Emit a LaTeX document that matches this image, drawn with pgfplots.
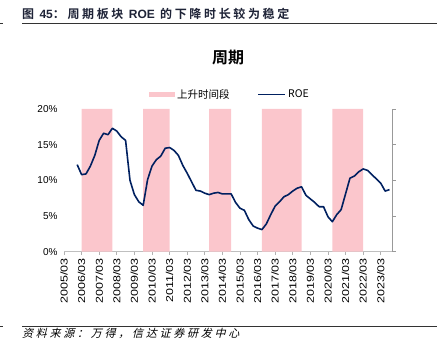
\documentclass[border=0pt]{standalone}
\usepackage{fontspec}
\setmainfont{Liberation Sans}
\newfontfamily\cjk[BoldFont={Noto Sans CJK SC Bold}]{Noto Sans CJK SC}
\newfontfamily\cjkhead[BoldFont={Noto Sans CJK SC Bold},LetterSpace=22]{Noto Sans CJK SC}
\newfontfamily\cjkfoot[FakeSlant=0.25,LetterSpace=25]{Noto Sans CJK SC}
\usepackage{graphicx}
\usepackage{pgfplots}
\usepackage{pgfplotstable}
\pgfplotsset{compat=1.18}
\definecolor{pinkc}{RGB}{251,198,204}
\definecolor{navyc}{RGB}{0,32,96}
\definecolor{headc}{RGB}{30,35,55}

\pgfplotstableread{
t v
0.75 12.2
1.0 10.8
1.25 10.9
1.5 12.0
1.75 13.5
2.0 15.6
2.25 16.6
2.5 16.4
2.75 17.3
3.0 16.9
3.25 16.1
3.5 15.6
3.75 10.0
4.0 8.0
4.25 7.0
4.5 6.5
4.75 10.1
5.0 12.0
5.25 12.9
5.5 13.4
5.75 14.5
6.0 14.6
6.25 14.2
6.5 13.5
6.75 12.1
7.0 11.0
7.25 9.8
7.5 8.6
7.75 8.5
8.0 8.2
8.25 8.0
8.5 8.2
8.75 8.3
9.0 8.1
9.25 8.1
9.5 8.1
9.75 6.9
10.0 6.1
10.25 5.8
10.5 4.5
10.75 3.6
11.0 3.3
11.25 3.1
11.5 3.9
11.75 5.2
12.0 6.4
12.25 7.0
12.5 7.7
12.75 8.0
13.0 8.5
13.25 8.9
13.5 9.1
13.75 7.9
14.0 7.4
14.25 6.9
14.5 6.3
14.75 6.3
15.0 4.9
15.25 4.2
15.5 5.2
15.75 5.9
16.0 8.1
16.25 10.3
16.5 10.6
16.75 11.2
17.0 11.6
17.25 11.4
17.5 10.8
17.75 10.2
18.0 9.6
18.25 8.5
18.5 8.7
}\roe

\begin{document}
\begin{tikzpicture}
\useasboundingbox (0,0) rectangle (437bp,356bp);
% header
\node[anchor=west, inner sep=0, text=headc] at (22bp,342bp) {\fontsize{12bp}{14bp}\selectfont\cjkhead\bfseries 图 {\rmfamily\bfseries 45}：周期板块 {\rmfamily\bfseries ROE} 的下降时长较为稳定};
\draw[black!80, line width=0.8bp] (22bp,332.7bp) -- (437bp,332.7bp);
\draw[black!80, line width=0.8bp] (0,332.7bp) -- (3bp,332.7bp);
% footer
\draw[black!80, line width=0.8bp] (22bp,30bp) -- (437bp,30bp);
\draw[black!80, line width=0.8bp] (0,30bp) -- (3bp,30bp);
\node[anchor=west, inner sep=0] at (22bp,23bp) {\cjkfoot\fontsize{11bp}{13bp}\selectfont 资料来源：万得，信达证券研发中心};
% title
\node[inner sep=0] at (228bp,298.7bp) {\cjk\bfseries\fontsize{16bp}{18bp}\selectfont 周期};

\begin{axis}[
  at={(64bp,104.3bp)}, anchor=south west, scale only axis,
  width=328bp, height=142.7bp,
  xmin=0, xmax=18.64, ymin=0, ymax=20,
  axis lines*=left, axis line style={-},
  y axis line style={draw=none},
  x axis line style={draw=black!25, line width=0.8bp},
  xtick={0,...,18},
  xticklabels={\scalebox{1.25}[1]{2005/03},\scalebox{1.25}[1]{2006/03},\scalebox{1.25}[1]{2007/03},\scalebox{1.25}[1]{2008/03},\scalebox{1.25}[1]{2009/03},\scalebox{1.25}[1]{2010/03},\scalebox{1.25}[1]{2011/03},\scalebox{1.25}[1]{2012/03},\scalebox{1.25}[1]{2013/03},\scalebox{1.25}[1]{2014/03},\scalebox{1.25}[1]{2015/03},\scalebox{1.25}[1]{2016/03},\scalebox{1.25}[1]{2017/03},\scalebox{1.25}[1]{2018/03},\scalebox{1.25}[1]{2019/03},\scalebox{1.25}[1]{2020/03},\scalebox{1.25}[1]{2021/03},\scalebox{1.25}[1]{2022/03},\scalebox{1.25}[1]{2023/03}},
  ytick={0,5,10,15,20},
  yticklabels={0\%,5\%,10\%,15\%,20\%},
  tick align=outside,
  major tick length=3bp,
  xtick style={draw=black!30, line width=0.6bp},
  ytick style={draw=none},
  tick label style={font=\fontsize{10bp}{12bp}\selectfont, /pgf/number format/assume math mode=true},
  xticklabel style={rotate=90, anchor=east},
  legend style={at={(0.5,1)}, anchor=south, xshift=2bp, yshift=5bp, draw=none, fill=none,
    legend columns=-1, font=\cjk\fontsize{10.5bp}{12bp}\selectfont,
    /tikz/every even column/.append style={column sep=26bp}},
]
\addplot[fill=pinkc, draw=none, legend image code/.code={\fill[pinkc] (0bp,-2.7bp) rectangle (26bp,2.7bp);}] coordinates {(1,0) (1,20) (2.75,20) (2.75,0)} \closedcycle;
\addlegendentry{上升时间段}
\addplot[fill=pinkc, draw=none, forget plot] coordinates {(4.5,0) (4.5,20) (6,20) (6,0)} \closedcycle;
\addplot[fill=pinkc, draw=none, forget plot] coordinates {(8.25,0) (8.25,20) (9.5,20) (9.5,0)} \closedcycle;
\addplot[fill=pinkc, draw=none, forget plot] coordinates {(11.25,0) (11.25,20) (13.5,20) (13.5,0)} \closedcycle;
\addplot[fill=pinkc, draw=none, forget plot] coordinates {(15.25,0) (15.25,20) (17,20) (17,0)} \closedcycle;
\addplot[navyc, line width=1.6bp, line join=round, no marks, legend image code/.code={\draw[navyc, line width=1.6bp] (3bp,0bp) -- (30bp,0bp);}] table[x=t, y=v] {\roe};
\addlegendentry{ROE}
\end{axis}

\begin{axis}[
  at={(64bp,104.3bp)}, anchor=south west, scale only axis,
  width=328bp, height=142.7bp,
  xmin=0, xmax=18.64, ymin=0, ymax=20,
  axis x line=none, axis y line*=right,
  axis line style={-, draw=black!40, line width=0.8bp},
  ytick={0,5,10,15,20}, yticklabels={},
  tick align=outside, major tick length=3.5bp,
  ytick style={draw=black!40, line width=0.8bp},
]
\end{axis}
\end{tikzpicture}
\end{document}
